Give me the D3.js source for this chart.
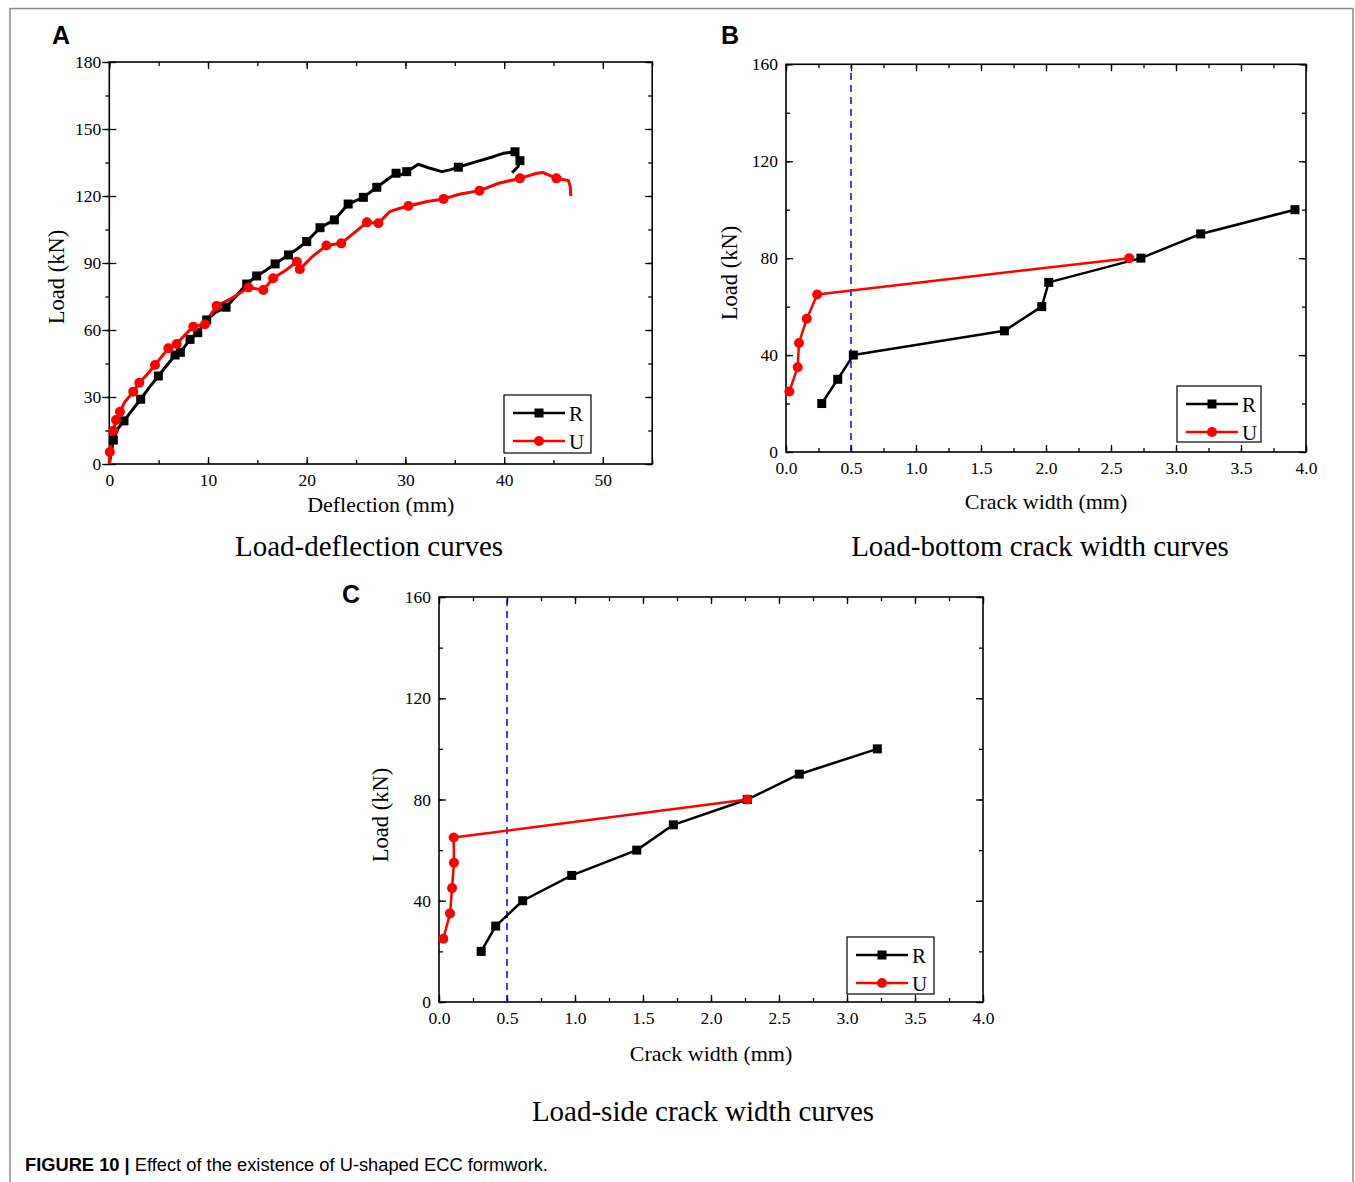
<!DOCTYPE html>
<html>
<head>
<meta charset="utf-8">
<script src="https://cdn.jsdelivr.net/npm/d3@7"></script>
<style>
    body { margin: 0; background: #fff; }
    text { font-family: "Liberation Serif", "Times New Roman", serif; fill: #000; }
    .letter { font-family: "Liberation Sans", Arial, sans-serif; font-weight: bold; font-size: 25px; }
</style>
</head>
<body>
<div id="fig"></div>
<script>

// Panel A : load - deflection
let rDeflLine = [[0,0],[0.2,5],[0.41,10.7],[0.9,16],[1.49,19.3],[2.3,24],[3.18,29],[4.0,34],[4.97,39.4],[5.8,44],
    [6.66,48.8],[7.2,50],[8.18,55.8],[8.96,58.8],[9.87,64.5],[10.8,68],[11.83,70.2],[12.9,75.5],[13.92,80.6],
    [14.93,84.2],[15.8,86.5],[16.8,89.6],[18.15,93.6],[19.1,96.5],[20.0,99.6],[21.35,105.8],[22.8,109.3],
    [24.2,116.4],[25.74,119.4],[27.1,123.9],[28.2,127.5],[29.05,130.2],[29.6,129.5],[30.13,130.9],[31.3,134.2],
    [32.5,132.4],[33.7,130.9],[34.5,131.7],[35.36,132.9],[37.2,135.4],[38.9,137.6],[39.9,139.1],[41.1,139.8],
    [41.6,135.8],[41.4,133.1],[40.8,130.4]];
let rDeflMarks = [[0.41,10.7],[1.49,19.3],[3.18,29],[4.97,39.4],[6.66,48.8],[7.2,50],[8.18,55.8],[8.96,58.8],
    [9.87,64.5],[11.83,70.2],[13.92,80.6],[14.93,84.2],[16.8,89.6],[18.15,93.6],[20.0,99.6],[21.35,105.8],
    [22.8,109.3],[24.2,116.4],[25.74,119.4],[27.1,123.9],[29.05,130.2],[30.13,130.9],[35.36,132.9],
    [41.1,139.8],[41.6,135.8]];
let uDeflLine = [[0,0],[0.05,5.4],[0.24,10],[0.41,14.9],[0.68,19.7],[1.08,23.4],[1.59,27.9],[2.43,32.4],
    [3.04,36.4],[3.8,40],[4.63,44.3],[5.3,48],[5.98,51.8],[6.83,53.7],[7.6,57.5],[8.51,61.5],[9.7,62.6],
    [10.3,67],[10.88,70.8],[12.4,74.2],[14.1,79],[15.6,77.9],[16.6,83.2],[17.8,86.5],[19.0,90.6],[19.3,87.2],
    [20.6,93],[22.0,97.8],[23.5,98.8],[24.8,103.5],[26.1,108.2],[27.26,107.8],[28.4,113],[29.45,114.5],
    [30.3,115.5],[32.2,117.5],[33.87,118.7],[35.57,120.9],[37.5,122.4],[39.45,125.7],[41.6,127.9],[43.3,130.2],
    [43.97,130.5],[45.3,127.9],[46.5,126.9],[46.7,124.2],[46.75,120]];
let uDeflMarks = [[0.05,5.4],[0.41,14.9],[0.68,19.7],[1.08,23.4],[2.43,32.4],[3.04,36.4],[4.63,44.3],
    [5.98,51.8],[6.83,53.7],[8.51,61.5],[9.7,62.6],[10.88,70.8],[14.1,79],[15.6,77.9],[16.6,83.2],[19.0,90.6],
    [19.3,87.2],[22.0,97.8],[23.5,98.8],[26.1,108.2],[27.26,107.8],[30.3,115.5],[33.87,118.7],[37.5,122.4],
    [41.6,127.9],[45.3,127.9]];

// Panel B : load - bottom crack width
let rBottom = [[0.275,20],[0.398,30],[0.518,40],[1.68,50],[1.967,60],[2.021,70],[2.73,80],[3.19,90],[3.915,100]];
let uBottom = [[0.026,25],[0.09,35],[0.1,45],[0.16,55],[0.24,65],[2.64,80]];

// Panel C : load - side crack width
let rSide = [[0.31,20],[0.417,30],[0.615,40],[0.976,50],[1.454,60],[1.723,70],[2.267,80],[2.649,90],[3.223,100]];
let uSide = [[0.032,25],[0.081,35],[0.096,45],[0.11,55],[0.108,65],[2.267,80]];

let crackLimit = 0.5;

let seriesNames = ["R", "U"];
let seriesColors = ["#000000", "#ff0000"];

let svg = d3.select("#fig").append("svg")
    .attr("width", 1355)
    .attr("height", 1182);

// thin frame round the figure (no bottom edge)
svg.append("path")
    .attr("d", "M10,1182 V8.5 H1353 V1182")
    .attr("fill", "none")
    .attr("stroke", "#8a8a8a")
    .attr("stroke-width", 1.5);

function drawPanel(cfg) {

    let x = d3.scaleLinear().domain(cfg.xDomain).range([cfg.left, cfg.right]);
    let y = d3.scaleLinear().domain(cfg.yDomain).range([cfg.bottom, cfg.top]);

    let g = svg.append("g");

    // minor ticks
    let xMinor = d3.range(cfg.xDomain[0], cfg.xDomain[1] + 1e-9, cfg.xMinor);
    let yMinor = d3.range(cfg.yDomain[0], cfg.yDomain[1] + 1e-9, cfg.yMinor);
    let xMajor = d3.range(cfg.xDomain[0], cfg.xMax + 1e-9, cfg.xStep);
    let yMajor = d3.range(cfg.yDomain[0], cfg.yDomain[1] + 1e-9, cfg.yStep);

    g.append("g")
        .attr("transform", "translate(0," + cfg.bottom + ")")
        .call(d3.axisBottom(x).tickValues(xMinor).tickFormat("").tickSize(-4).tickSizeOuter(0));
    g.append("g")
        .attr("transform", "translate(0," + cfg.top + ")")
        .call(d3.axisTop(x).tickValues(xMinor).tickFormat("").tickSize(-4).tickSizeOuter(0));
    g.append("g")
        .attr("transform", "translate(" + cfg.left + ",0)")
        .call(d3.axisLeft(y).tickValues(yMinor).tickFormat("").tickSize(cfg.crossY ? 4 : -4).tickSizeOuter(0));
    g.append("g")
        .attr("transform", "translate(" + cfg.right + ",0)")
        .call(d3.axisRight(y).tickValues(yMinor).tickFormat("").tickSize(-4).tickSizeOuter(0));

    // major ticks with labels
    g.append("g")
        .attr("transform", "translate(0," + cfg.bottom + ")")
        .call(d3.axisBottom(x).tickValues(xMajor).tickFormat(d3.format(cfg.xFormat))
            .tickSize(-7).tickPadding(10).tickSizeOuter(0));
    g.append("g")
        .attr("transform", "translate(0," + cfg.top + ")")
        .call(d3.axisTop(x).tickValues(xMajor).tickFormat("").tickSize(-7).tickSizeOuter(0));
    g.append("g")
        .attr("transform", "translate(" + cfg.left + ",0)")
        .call(d3.axisLeft(y).tickValues(yMajor).tickFormat(d3.format("d"))
            .tickSize(-7).tickPadding(8).tickSizeOuter(0));
    if (cfg.crossY) {
        g.append("g")
            .attr("transform", "translate(" + cfg.left + ",0)")
            .call(d3.axisLeft(y).tickValues(yMajor).tickFormat("").tickSize(7).tickSizeOuter(0));
    }
    g.append("g")
        .attr("transform", "translate(" + cfg.right + ",0)")
        .call(d3.axisRight(y).tickValues(yMajor).tickFormat("").tickSize(-7).tickSizeOuter(0));

    g.selectAll(".domain").remove();
    g.selectAll(".tick line").attr("stroke", "#000").attr("stroke-width", 1.3);
    g.selectAll(".tick text").style("font-family", "Liberation Serif").style("font-size", "17.5px");

    // box
    g.append("rect")
        .attr("x", cfg.left)
        .attr("y", cfg.top)
        .attr("width", cfg.right - cfg.left)
        .attr("height", cfg.bottom - cfg.top)
        .attr("fill", "none")
        .attr("stroke", "#000")
        .attr("stroke-width", 1.6);

    if (cfg.limit !== undefined) {
        g.append("line")
            .attr("x1", x(cfg.limit)).attr("x2", x(cfg.limit))
            .attr("y1", cfg.bottom).attr("y2", cfg.top + 2)
            .attr("stroke", "#0000ff")
            .attr("stroke-width", 1.5)
            .attr("stroke-dasharray", "7,5");
    }

    let line = d3.line().x(d => x(d[0])).y(d => y(d[1]));

    cfg.lines.forEach((pts, i) => {
        g.append("path")
            .datum(pts)
            .attr("d", line)
            .attr("fill", "none")
            .attr("stroke", seriesColors[i])
            .attr("stroke-width", cfg.lineWidth)
            .attr("stroke-linejoin", "round");
    });

    // square markers for R
    g.selectAll(".sq")
        .data(cfg.marks[0])
        .enter()
        .append("rect")
        .attr("x", d => x(d[0]) - 4.5)
        .attr("y", d => y(d[1]) - 4.5)
        .attr("width", 9)
        .attr("height", 9)
        .attr("fill", seriesColors[0]);

    // round markers for U
    g.selectAll(".dot")
        .data(cfg.marks[1])
        .enter()
        .append("circle")
        .attr("cx", d => x(d[0]))
        .attr("cy", d => y(d[1]))
        .attr("r", 5)
        .attr("fill", seriesColors[1]);

    // legend
    let lg = cfg.legend;
    g.append("rect")
        .attr("x", lg.x).attr("y", lg.y)
        .attr("width", lg.w).attr("height", lg.h)
        .attr("fill", "#fff")
        .attr("stroke", "#000")
        .attr("stroke-width", 1.2);

    seriesNames.forEach((name, i) => {
        let cy = lg.y + 18 + i * 28;
        let x0 = lg.x + 9;
        let x1 = x0 + 52;
        g.append("line")
            .attr("x1", x0).attr("x2", x1)
            .attr("y1", cy).attr("y2", cy)
            .attr("stroke", seriesColors[i])
            .attr("stroke-width", 2.5);
        if (i === 0) {
            g.append("rect")
                .attr("x", (x0 + x1) / 2 - 4.5).attr("y", cy - 4.5)
                .attr("width", 9).attr("height", 9)
                .attr("fill", seriesColors[i]);
        } else {
            g.append("circle")
                .attr("cx", (x0 + x1) / 2).attr("cy", cy)
                .attr("r", 5)
                .attr("fill", seriesColors[i]);
        }
        g.append("text")
            .attr("x", x1 + 4)
            .attr("y", cy + 7.5)
            .style("font-size", "21px")
            .text(name);
    });

    // axis titles
    g.append("text")
        .attr("x", (cfg.left + cfg.right) / 2)
        .attr("y", cfg.bottom + cfg.xTitleDy)
        .attr("text-anchor", "middle")
        .style("font-size", "22px")
        .text(cfg.xTitle);

    g.append("text")
        .attr("transform", "translate(" + cfg.yTitleX + "," + cfg.yTitleY + ") rotate(-90)")
        .attr("text-anchor", "middle")
        .style("font-size", "22.5px")
        .text("Load (kN)");

    g.append("text")
        .attr("x", cfg.subX)
        .attr("y", cfg.subY)
        .attr("text-anchor", "middle")
        .style("font-size", "29px")
        .text(cfg.subtitle);

    g.append("text")
        .attr("class", "letter")
        .attr("x", cfg.letterX)
        .attr("y", cfg.letterY)
        .text(cfg.letter);
}

drawPanel({
    left: 109.3, right: 652.2, top: 62, bottom: 464,
    xDomain: [0, 55], xMax: 50, xStep: 10, xMinor: 5, xFormat: "d",
    yDomain: [0, 180], yStep: 30, yMinor: 15, crossY: true,
    lines: [rDeflLine, uDeflLine], marks: [rDeflMarks, uDeflMarks], lineWidth: 3,
    legend: {x: 504, y: 395, w: 87, h: 58},
    xTitle: "Deflection (mm)", xTitleDy: 48, yTitleX: 64, yTitleY: 277,
    subtitle: "Load-deflection curves", subX: 369, subY: 556,
    letter: "A", letterX: 52, letterY: 44
});

drawPanel({
    left: 786, right: 1306, top: 64.3, bottom: 452,
    xDomain: [0, 4], xMax: 4, xStep: 0.5, xMinor: 0.25, xFormat: ".1f",
    yDomain: [0, 160], yStep: 40, yMinor: 20, crossY: false,
    lines: [rBottom, uBottom], marks: [rBottom, uBottom], lineWidth: 2.5,
    limit: crackLimit,
    legend: {x: 1177, y: 386, w: 84, h: 56},
    xTitle: "Crack width (mm)", xTitleDy: 57, yTitleX: 737, yTitleY: 273,
    subtitle: "Load-bottom crack width curves", subX: 1040, subY: 556,
    letter: "B", letterX: 721, letterY: 44
});

drawPanel({
    left: 439, right: 983, top: 597, bottom: 1002,
    xDomain: [0, 4], xMax: 4, xStep: 0.5, xMinor: 0.25, xFormat: ".1f",
    yDomain: [0, 160], yStep: 40, yMinor: 20, crossY: false,
    lines: [rSide, uSide], marks: [rSide, uSide], lineWidth: 2.5,
    limit: crackLimit,
    legend: {x: 847, y: 937, w: 87, h: 57},
    xTitle: "Crack width (mm)", xTitleDy: 59, yTitleX: 388, yTitleY: 815,
    subtitle: "Load-side crack width curves", subX: 703, subY: 1121,
    letter: "C", letterX: 342, letterY: 603
});

// caption
let cap = svg.append("text")
    .attr("x", 25)
    .attr("y", 1171)
    .style("font-family", "Liberation Sans, Arial, sans-serif")
    .style("font-size", "18.3px")
    .attr("fill", "#222");
cap.append("tspan").style("font-weight", "bold").text("FIGURE 10 | ");
cap.append("tspan").text("Effect of the existence of U-shaped ECC formwork.");

</script>
</body>
</html>
